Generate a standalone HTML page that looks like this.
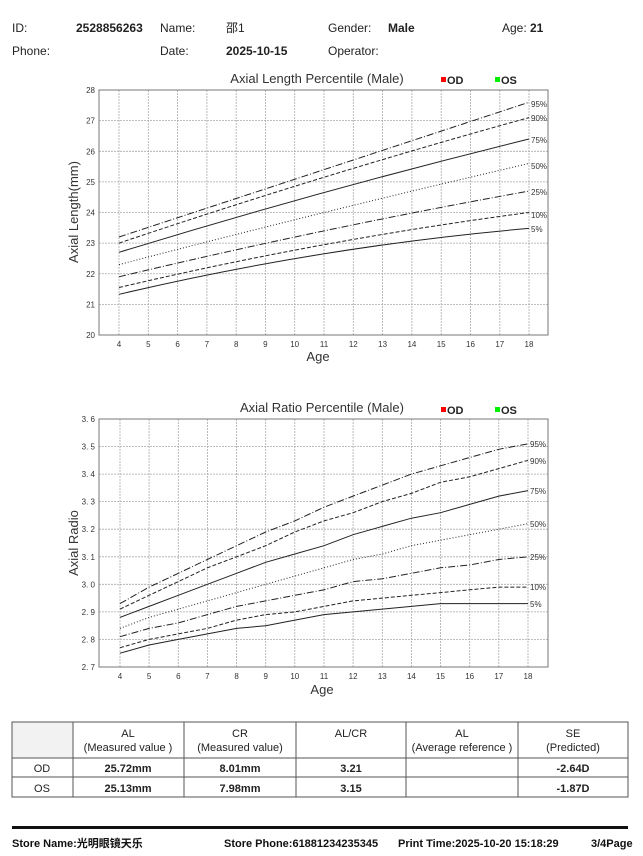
<!DOCTYPE html>
<html><head><meta charset="utf-8"><style>
body{margin:0;background:#fff;width:643px;height:856px;overflow:hidden;font-family:"Liberation Sans","Noto Sans CJK SC",sans-serif;}
svg{position:absolute;left:0;top:0}
</style></head><body>
<svg width="643" height="856" xmlns="http://www.w3.org/2000/svg" font-family="Liberation Sans, Noto Sans CJK SC, sans-serif">
<!-- header -->
<g font-size="12" fill="#222">
<text x="12" y="32">ID:</text><text x="76" y="32" font-weight="bold">2528856263</text>
<text x="160" y="32">Name:</text><text x="226" y="32">邵1</text>
<text x="328" y="32">Gender:</text><text x="388" y="32" font-weight="bold">Male</text>
<text x="502" y="32">Age:</text><text x="530" y="32" font-weight="bold">21</text>
<text x="12" y="55">Phone:</text>
<text x="160" y="55">Date:</text><text x="226" y="55" font-weight="bold">2025-10-15</text>
<text x="328" y="55">Operator:</text>
</g>

<!-- chart 1 -->
<g stroke="#aaa" stroke-width="0.8" stroke-dasharray="2,1">
<line x1="99" x2="548" y1="120.6" y2="120.6"/><line x1="99" x2="548" y1="151.3" y2="151.3"/><line x1="99" x2="548" y1="181.9" y2="181.9"/><line x1="99" x2="548" y1="212.5" y2="212.5"/><line x1="99" x2="548" y1="243.1" y2="243.1"/><line x1="99" x2="548" y1="273.75" y2="273.75"/><line x1="99" x2="548" y1="304.4" y2="304.4"/>
<line y1="90" y2="335" x1="119" x2="119"/><line y1="90" y2="335" x1="148.3" x2="148.3"/><line y1="90" y2="335" x1="177.6" x2="177.6"/><line y1="90" y2="335" x1="206.9" x2="206.9"/><line y1="90" y2="335" x1="236.2" x2="236.2"/><line y1="90" y2="335" x1="265.4" x2="265.4"/><line y1="90" y2="335" x1="294.7" x2="294.7"/><line y1="90" y2="335" x1="324" x2="324"/><line y1="90" y2="335" x1="353.3" x2="353.3"/><line y1="90" y2="335" x1="382.6" x2="382.6"/><line y1="90" y2="335" x1="411.9" x2="411.9"/><line y1="90" y2="335" x1="441.2" x2="441.2"/><line y1="90" y2="335" x1="470.5" x2="470.5"/><line y1="90" y2="335" x1="499.8" x2="499.8"/><line y1="90" y2="335" x1="529" x2="529"/>
</g>
<rect x="99" y="90" width="449" height="245" fill="none" stroke="#777" stroke-width="1"/>
<g fill="none" stroke="#222" stroke-width="1">
<path d="M119 237 L529 102.25" stroke-dasharray="7,2,1,2"/>
<path d="M119 243.1 Q324 174.2 529 117.6" stroke-dasharray="4,2"/>
<path d="M119 252.3 Q324 189.5 529 139"/>
<path d="M119 264.6 Q324 211 529 163.5" stroke-dasharray="1,2"/>
<path d="M119 276.8 Q324 227.8 529 191.1" stroke-dasharray="7,2,1,2"/>
<path d="M119 287.5 Q324 239.4 529 212.5" stroke-dasharray="4,2"/>
<path d="M119 294.3 Q324 246.2 529 228.4"/>
</g>
<g font-size="8" fill="#333">
<text x="531" y="107">95%</text><text x="531" y="121">90%</text><text x="531" y="143">75%</text><text x="531" y="169">50%</text><text x="531" y="195">25%</text><text x="531" y="218">10%</text><text x="531" y="232">5%</text>
</g>
<g font-size="8" fill="#333" text-anchor="end">
<text x="95" y="93">28</text><text x="95" y="123.6">27</text><text x="95" y="154.3">26</text><text x="95" y="184.9">25</text><text x="95" y="215.5">24</text><text x="95" y="246.1">23</text><text x="95" y="276.75">22</text><text x="95" y="307.4">21</text><text x="95" y="338">20</text>
</g>
<g font-size="8" fill="#333" text-anchor="middle">
<text x="119" y="347">4</text><text x="148.3" y="347">5</text><text x="177.6" y="347">6</text><text x="206.9" y="347">7</text><text x="236.2" y="347">8</text><text x="265.4" y="347">9</text><text x="294.7" y="347">10</text><text x="324" y="347">11</text><text x="353.3" y="347">12</text><text x="382.6" y="347">13</text><text x="411.9" y="347">14</text><text x="441.2" y="347">15</text><text x="470.5" y="347">16</text><text x="499.8" y="347">17</text><text x="529" y="347">18</text>
</g>
<text x="317" y="83" font-size="13" text-anchor="middle" fill="#333">Axial Length Percentile (Male)</text>
<rect x="441" y="77" width="5" height="5" fill="#f00"/><text x="447" y="84" font-size="11" font-weight="bold" fill="#222">OD</text>
<rect x="495" y="77" width="5" height="5" fill="#0e0"/><text x="501" y="84" font-size="11" font-weight="bold" fill="#222">OS</text>
<text x="318" y="361" font-size="13" text-anchor="middle" fill="#333">Age</text>
<text transform="translate(78,212) rotate(-90)" font-size="13" text-anchor="middle" fill="#333">Axial Length(mm)</text>

<!-- chart 2 -->
<g stroke="#aaa" stroke-width="0.8" stroke-dasharray="2,1">
<line x1="99" x2="548" y1="639.4" y2="639.4"/><line x1="99" x2="548" y1="611.9" y2="611.9"/><line x1="99" x2="548" y1="584.3" y2="584.3"/><line x1="99" x2="548" y1="556.8" y2="556.8"/><line x1="99" x2="548" y1="529.2" y2="529.2"/><line x1="99" x2="548" y1="501.6" y2="501.6"/><line x1="99" x2="548" y1="474.1" y2="474.1"/><line x1="99" x2="548" y1="446.5" y2="446.5"/>
<line y1="419" y2="667" x1="120" x2="120"/><line y1="419" y2="667" x1="149.1" x2="149.1"/><line y1="419" y2="667" x1="178.3" x2="178.3"/><line y1="419" y2="667" x1="207.4" x2="207.4"/><line y1="419" y2="667" x1="236.6" x2="236.6"/><line y1="419" y2="667" x1="265.7" x2="265.7"/><line y1="419" y2="667" x1="294.8" x2="294.8"/><line y1="419" y2="667" x1="324" x2="324"/><line y1="419" y2="667" x1="353.1" x2="353.1"/><line y1="419" y2="667" x1="382.3" x2="382.3"/><line y1="419" y2="667" x1="411.4" x2="411.4"/><line y1="419" y2="667" x1="440.5" x2="440.5"/><line y1="419" y2="667" x1="469.7" x2="469.7"/><line y1="419" y2="667" x1="498.8" x2="498.8"/><line y1="419" y2="667" x1="528" x2="528"/>
</g>
<rect x="99" y="419" width="449" height="248" fill="none" stroke="#777" stroke-width="1"/>
<g fill="none" stroke="#222" stroke-width="1">
<polyline stroke-dasharray="7,2,1,2" points="120,603.6 149.1,587.1 178.3,573.3 207.4,559.5 236.6,545.7 265.7,532 294.8,520.9 324,507.2 353.1,496.1 382.3,485.1 411.4,474.1 440.5,465.8 469.7,457.5 498.8,449.3 528,443.8"/>
<polyline stroke-dasharray="4,2" points="120,609.1 149.1,595.3 178.3,581.6 207.4,567.8 236.6,556.8 265.7,545.7 294.8,532 324,520.9 353.1,512.7 382.3,501.6 411.4,493.4 440.5,482.3 469.7,476.8 498.8,468.6 528,460.3"/>
<polyline points="120,617.4 149.1,606.4 178.3,595.3 207.4,584.3 236.6,573.3 265.7,562.3 294.8,554 324,545.7 353.1,534.7 382.3,526.4 411.4,518.2 440.5,512.7 469.7,504.4 498.8,496.1 528,490.6"/>
<polyline stroke-dasharray="1,2" points="120,628.4 149.1,617.4 178.3,609.1 207.4,600.9 236.6,592.6 265.7,584.3 294.8,576.1 324,567.8 353.1,559.5 382.3,554 411.4,545.7 440.5,540.2 469.7,534.7 498.8,529.2 528,523.7"/>
<polyline stroke-dasharray="7,2,1,2" points="120,636.7 149.1,628.4 178.3,622.9 207.4,614.6 236.6,606.4 265.7,600.9 294.8,595.3 324,589.8 353.1,581.6 382.3,578.8 411.4,573.3 440.5,567.8 469.7,565 498.8,559.5 528,556.8"/>
<polyline stroke-dasharray="4,2" points="120,647.7 149.1,639.4 178.3,633.9 207.4,628.4 236.6,620.1 265.7,614.6 294.8,611.9 324,606.4 353.1,600.9 382.3,598.1 411.4,595.3 440.5,592.6 469.7,589.8 498.8,587.1 528,587.1"/>
<polyline points="120,653.2 149.1,645 178.3,639.4 207.4,633.9 236.6,628.4 265.7,625.7 294.8,620.1 324,614.6 353.1,611.9 382.3,609.1 411.4,606.4 440.5,603.6 469.7,603.6 498.8,603.6 528,603.6"/>
</g>
<g font-size="8" fill="#333">
<text x="530" y="447">95%</text><text x="530" y="464">90%</text><text x="530" y="494">75%</text><text x="530" y="527">50%</text><text x="530" y="560">25%</text><text x="530" y="590">10%</text><text x="530" y="607">5%</text>
</g>
<g font-size="8" fill="#333" text-anchor="end">
<text x="95" y="422">3. 6</text><text x="95" y="449.5">3. 5</text><text x="95" y="477.1">3. 4</text><text x="95" y="504.6">3. 3</text><text x="95" y="532.2">3. 2</text><text x="95" y="559.8">3. 1</text><text x="95" y="587.3">3. 0</text><text x="95" y="614.9">2. 9</text><text x="95" y="642.4">2. 8</text><text x="95" y="670">2. 7</text>
</g>
<g font-size="8" fill="#333" text-anchor="middle">
<text x="120" y="679">4</text><text x="149.1" y="679">5</text><text x="178.3" y="679">6</text><text x="207.4" y="679">7</text><text x="236.6" y="679">8</text><text x="265.7" y="679">9</text><text x="294.8" y="679">10</text><text x="324" y="679">11</text><text x="353.1" y="679">12</text><text x="382.3" y="679">13</text><text x="411.4" y="679">14</text><text x="440.5" y="679">15</text><text x="469.7" y="679">16</text><text x="498.8" y="679">17</text><text x="528" y="679">18</text>
</g>
<text x="322" y="412" font-size="13" text-anchor="middle" fill="#333">Axial Ratio Percentile (Male)</text>
<rect x="441" y="407" width="5" height="5" fill="#f00"/><text x="447" y="414" font-size="11" font-weight="bold" fill="#222">OD</text>
<rect x="495" y="407" width="5" height="5" fill="#0e0"/><text x="501" y="414" font-size="11" font-weight="bold" fill="#222">OS</text>
<text x="322" y="694" font-size="13" text-anchor="middle" fill="#333">Age</text>
<text transform="translate(78,543) rotate(-90)" font-size="13" text-anchor="middle" fill="#333">Axial Radio</text>

<!-- table -->
<g stroke="#555" stroke-width="1" fill="none">
<rect x="12" y="722" width="616" height="75"/>
<line x1="12" x2="628" y1="758" y2="758"/><line x1="12" x2="628" y1="777" y2="777"/>
<line x1="73" x2="73" y1="722" y2="797"/><line x1="184" x2="184" y1="722" y2="797"/><line x1="296" x2="296" y1="722" y2="797"/><line x1="406" x2="406" y1="722" y2="797"/><line x1="518" x2="518" y1="722" y2="797"/>
</g>
<rect x="12.5" y="722.5" width="60" height="35" fill="#f2f2f2"/>
<g font-size="11" fill="#222" text-anchor="middle">
<text x="128" y="737">AL</text><text x="128" y="751">(Measured value )</text>
<text x="240" y="737">CR</text><text x="240" y="751">(Measured value)</text>
<text x="351" y="737">AL/CR</text>
<text x="462" y="737">AL</text><text x="462" y="751">(Average reference )</text>
<text x="573" y="737">SE</text><text x="573" y="751">(Predicted)</text>
<text x="42" y="772">OD</text><text x="42" y="792">OS</text>
<g font-weight="bold">
<text x="128" y="772">25.72mm</text><text x="240" y="772">8.01mm</text><text x="351" y="772">3.21</text><text x="573" y="772">-2.64D</text>
<text x="128" y="792">25.13mm</text><text x="240" y="792">7.98mm</text><text x="351" y="792">3.15</text><text x="573" y="792">-1.87D</text>
</g>
</g>

<!-- footer -->
<rect x="12" y="826" width="616" height="3" fill="#111"/>
<g font-size="11" fill="#111" font-weight="bold">
<text x="12" y="847">Store Name:光明眼镜天乐</text>
<text x="224" y="847">Store Phone:61881234235345</text>
<text x="398" y="847">Print Time:2025-10-20 15:18:29</text>
<text x="591" y="847">3/4Page</text>
</g>
</svg>
</body></html>
